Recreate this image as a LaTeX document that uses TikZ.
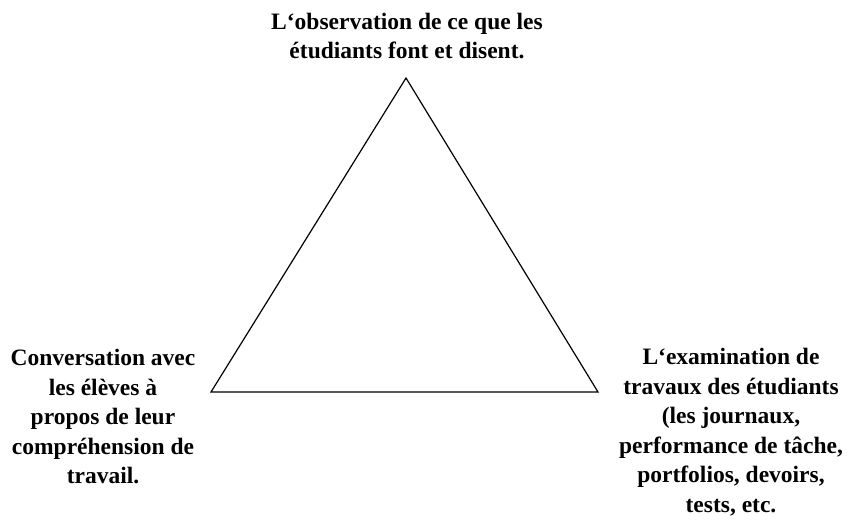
\documentclass[tikz,border=0pt]{standalone}
\usepackage{fontspec}
\setmainfont{Liberation Serif}
\usetikzlibrary{positioning}

\tikzset{
  corner/.style={font=\bfseries\fontsize{23.5}{29.5}\selectfont, align=center, inner sep=0pt},
  side/.style={line width=1.2pt, line join=miter}
}

\begin{document}
\begin{tikzpicture}[x=1pt,y=-1pt]
			\useasboundingbox (0,0) rectangle (859,525);
			\coordinate (v1) at (406,78);
			\coordinate (v2) at (211,392);
			\coordinate (v3) at (598,392);
			\draw[side] (v1) -- (v2) -- (v3) -- cycle;
			\node[corner] (obs) at (407,36) {L‘observation de ce que les\\ étudiants font et disent.};
			\node[corner] (conv) at (103,417) {Conversation avec\\ les élèves à\\ propos de leur\\ compréhension de\\ travail.};
			\node[corner] (exam) at (731,432) {L‘examination de\\ travaux des étudiants\\ (les journaux,\\ performance de tâche,\\ portfolios, devoirs,\\ tests, etc.};
		\end{tikzpicture}
\end{document}
